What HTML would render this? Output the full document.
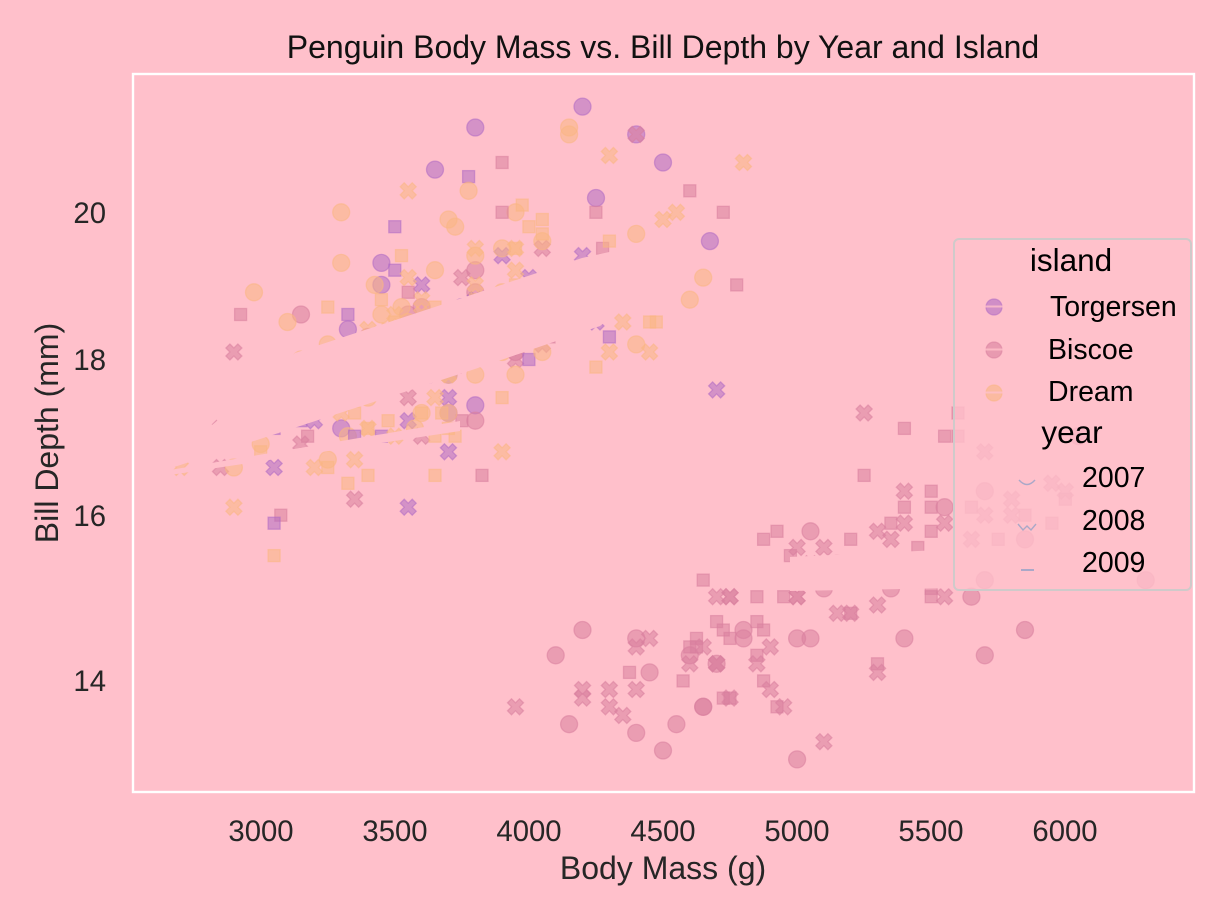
<!DOCTYPE html>
<html><head><meta charset="utf-8"><style>
html,body{margin:0;padding:0;background:#FFC0CB;}
svg{display:block;font-family:"Liberation Sans",Arial,sans-serif;}
</style></head><body>
<svg id="s" width="1228" height="921" viewBox="0 0 1228 921" xmlns="http://www.w3.org/2000/svg">
<rect x="0" y="0" width="1228" height="921" fill="#FFC0CB"/>
<g id="pts"></g>
<g fill="#FFC0CB">
<polygon points="165,466 295,353 456,300 582,258 700,232 700,248 600,326 475,369 165,470"/>
<polygon points="170,470 460,421 460,431 170,475"/>
<polygon points="790,557 960,549 960,588 790,591"/>
</g>
<rect x="133" y="74" width="1061" height="718" fill="none" stroke="#ffffff" stroke-width="2.4"/>
<text x="663" y="58" font-size="32" fill="#111" text-anchor="middle">Penguin Body Mass vs. Bill Depth by Year and Island</text>
<g font-size="29.3" fill="#262626" text-anchor="middle">
<text x="261" y="841">3000</text>
<text x="395" y="841">3500</text>
<text x="529" y="841">4000</text>
<text x="663" y="841">4500</text>
<text x="797" y="841">5000</text>
<text x="931" y="841">5500</text>
<text x="1065" y="841">6000</text>
</g>
<g font-size="29.3" fill="#262626" text-anchor="end">
<text x="106" y="223">20</text>
<text x="106" y="370">18</text>
<text x="106" y="526">16</text>
<text x="106" y="691">14</text>
</g>
<text x="663" y="879" font-size="32" fill="#262626" text-anchor="middle">Body Mass (g)</text>
<text transform="translate(58,433) rotate(-90)" font-size="32" fill="#262626" text-anchor="middle">Bill Depth (mm)</text>
<rect x="954" y="239" width="237" height="351" rx="5" ry="5" fill="#FFC0CB" fill-opacity="0.8" stroke="#cfcaca" stroke-width="2"/>
<g fill="#000">
<text x="1071" y="271" font-size="31.5" text-anchor="middle">island</text>
<text x="1050" y="316" font-size="28.5">Torgersen</text>
<text x="1048" y="359" font-size="28.5">Biscoe</text>
<text x="1048" y="401" font-size="28.5">Dream</text>
<text x="1072" y="443" font-size="31.5" text-anchor="middle">year</text>
<text x="1082" y="487" font-size="28.5">2007</text>
<text x="1082" y="530" font-size="28.5">2008</text>
<text x="1082" y="572" font-size="28.5">2009</text>
</g>
<g>
<circle cx="994" cy="307" r="8" fill="#b06cc4" fill-opacity="0.6" stroke="#b06cc4" stroke-opacity="0.55" stroke-width="1.3"/>
<rect x="985" y="305.5" width="18" height="2" fill="#FFC0CB" fill-opacity="0.8"/>
<circle cx="994" cy="350" r="8" fill="#d8809e" fill-opacity="0.6" stroke="#d8809e" stroke-opacity="0.55" stroke-width="1.3"/>
<rect x="985" y="348.5" width="18" height="2" fill="#FFC0CB" fill-opacity="0.8"/>
<circle cx="994" cy="393" r="8" fill="#f9b684" fill-opacity="0.6" stroke="#f9b684" stroke-opacity="0.55" stroke-width="1.3"/>
<rect x="985" y="391.5" width="18" height="2" fill="#FFC0CB" fill-opacity="0.8"/>
<path d="M1019,480 Q1027,489 1035,480" fill="none" stroke="#aaa8c8" stroke-width="1.4"/>
<path d="M1018,524 L1023,530 L1027,526 L1031,530 L1036,524" fill="none" stroke="#aaa8c8" stroke-width="1.4"/>
<path d="M1021,570 L1034,570" fill="none" stroke="#aaa8c8" stroke-width="2"/>
</g>
</svg>
<script>
(function(){
function X(m){return 132+(m-2520)*1062/3960;}
function Y(d){return 74+(4.68768-Math.sqrt(d))*641.55;}
var G=[
[0,0,"3750 18.7;3800 17.4;3250 18.0;3450 19.3;3650 20.6;3625 17.8;4675 19.6;3475 18.1;4250 20.2;3300 17.1;3700 17.3;3200 17.6;3800 21.2;4400 21.1;3700 17.8;3450 19.0;4500 20.7;3325 18.4;4200 21.5"],
[1,0,"3400 18.3;3600 18.7;3800 19.2;3950 18.1;3800 17.2;3800 18.9;3550 18.6;3200 17.9;3150 18.6;3950 18.9"],
[2,0,"3250 16.7;3900 18.1;3300 17.8;3900 18.9;3325 17.0;4150 21.1;3950 20.0;3550 18.5;3300 19.3;4650 19.1;3150 18.0;3900 18.4;3100 18.5;4400 19.7;3000 16.9;4600 18.8;3425 19.0;2975 18.9;3450 17.9;4150 21.2"],
[1,1,"3500 17.7;4300 18.9;3450 17.9;4050 19.5;2900 18.1;3700 18.6;3550 17.5;3800 18.8;2850 16.6;3750 19.1;3150 16.9;4400 21.1;3600 17.0;4050 18.2;2850 17.1;3950 18.0;3350 16.2;4100 19.1"],
[0,1,"3050 16.6;4450 19.4;3600 19.0;3900 18.4;3550 17.2;4150 18.9;3700 17.5;4250 18.5;3700 16.8;3900 19.4;3550 16.1;4000 19.1;3200 17.2;4700 17.6;3800 18.8;4200 19.4"],
[2,1,"3350 17.8;3550 20.3;3800 19.5;3500 18.6;3950 19.2;3600 18.8;3550 18.0;4300 18.1;3400 17.1;4450 18.1;3300 17.3;4300 18.9;3700 18.6;4350 18.5;2900 16.1;4100 18.5"],
[1,2,"3725 17.9;4725 20.0;3075 16.0;4250 20.0;2925 18.6;3550 18.9;3750 17.2;3900 20.0;3175 17.0;4775 19.0;3825 16.5;4600 20.3;3200 17.7;4275 19.5;3900 20.7;4075 18.3"],
[0,2,"2900 17.0;3775 20.5;3350 17.0;3325 18.6;3150 17.2;3500 19.8;3450 17.0;3875 18.5;3050 15.9;4000 19.0;3275 17.6;4300 18.3;3050 17.1;4000 18.0;3325 17.9;3500 19.2"],
[2,2,"3500 18.5;4475 18.5;3425 17.6;3900 17.5;3175 17.5;3975 20.1;3400 16.5;4250 17.9;3400 17.1;3475 17.2;3050 15.5;3725 17.0;3000 16.8;3650 18.7;4250 18.6;3475 18.4;3450 17.8;3750 18.1;3700 17.1;4000 18.5"],
[1,0,"4500 13.2;5700 16.3;4450 14.1;5700 15.2;5400 14.5;4550 13.5;4800 14.6;5200 15.3;4400 13.4;5150 15.4;4650 13.7;5550 16.1;4650 13.7;5850 14.6;4200 14.6;5850 15.7;4150 13.5;6300 15.2;4800 14.5;5350 15.1;5700 14.3;5000 14.5;4400 14.5;5050 15.8;5000 13.1;5100 15.1;4100 14.3;5650 15.0;4600 14.3;5550 15.3;5250 15.3;4700 14.2;5050 14.5;6050 17.0"],
[1,1,"5150 14.8;5400 16.3;4950 13.7;5250 17.3;4350 13.6;5350 15.7;3950 13.7;5700 16.0;4300 13.7;4750 15.0;5550 15.9;4900 13.9;4200 13.9;5400 15.9;5100 13.3;5300 15.8;4850 14.2;5300 14.1;4400 14.4;5000 15.0;4900 14.4;5050 15.4;4300 13.9;5000 15.0;4450 14.5;5550 15.3;4200 13.8;5300 14.9;4400 13.9;5650 15.7;4700 14.2;5700 16.8;4650 14.4;5800 16.2;4700 14.2;5550 15.0;4750 15.0;5000 15.6;5100 15.6;5200 14.8;4700 15.0;5800 16.0;4600 14.2;6000 16.3;4750 13.8;5950 16.4"],
[1,2,"4625 14.5;5450 15.6;4725 14.6;5350 15.9;4750 13.8;5600 17.3;4600 14.4;5300 14.2;4875 14.0;5550 17.0;4950 15.0;5400 17.1;4750 14.5;5650 16.1;4850 14.7;5200 15.7;4925 15.8;4875 14.6;4625 14.4;5250 16.5;4850 15.0;5600 17.0;4975 15.5;5500 15.0;4725 13.8;5500 16.1;4700 14.7;5500 15.8;4575 14.0;5500 15.1;5000 15.2;5950 15.9;4650 15.2;5500 16.3;4375 14.1;5850 16.0;4875 15.7;6000 16.2;4925 13.7;4850 14.3;5750 15.7;5200 14.8;5400 16.1"],
[2,0,"3500 17.9;3900 19.5;3650 19.2;3525 18.7;3725 19.8;3950 17.8;3250 18.2;3750 18.2;4150 18.9;3700 19.9;3800 17.8;3775 20.3;3700 17.3;4050 18.1;3575 17.1;4050 19.6;3300 20.0;3700 17.8;3450 18.6;4400 18.2;3600 17.3;3400 17.5;2900 16.6;3800 19.4;3300 17.9;4150 19.0"],
[2,1,"3400 18.4;3800 19.0;3700 17.8;4550 20.0;3200 16.6;4300 20.8;3350 16.7;4100 18.8;3600 18.6;3900 16.8;3850 18.3;4800 20.7;2700 16.6;4500 19.9;3950 19.5;3650 17.5;3550 19.1;3500 17.0"],
[2,2,"3675 17.9;4450 18.5;3400 17.9;4300 19.6;3250 18.7;3675 17.3;3325 16.4;3950 19.0;3600 17.3;4050 19.7;3350 17.3;3450 18.8;3250 16.6;4050 19.9;3800 18.8;3525 19.4;3950 19.5;3650 16.5;3650 17.0;4000 19.8;3400 18.1;3775 18.2;4100 19.0;3775 18.7"]
];
var cols=['#b06cc4','#d8809e','#f9b684'];
var S=17,r=S/2,sq=S/Math.SQRT2;
var pv=[[-1,-3],[-1,-1],[-3,-1],[-3,1],[-1,1],[-1,3],[1,3],[1,1],[3,1],[3,-1],[1,-1],[1,-3]].map(function(p){var x=p[0]/6*S,y=p[1]/6*S;return [(x-y)/Math.SQRT2,(x+y)/Math.SQRT2];});
var out='';
G.forEach(function(g){
 var c=cols[g[0]],yr=g[1];
 var st=' fill="'+c+'" fill-opacity="0.55" stroke="'+c+'" stroke-opacity="0.55" stroke-width="1.3"';
 g[2].split(';').forEach(function(s){
  var a=s.split(' '),x=X(+a[0]),y=Y(+a[1]);
  if(yr===0){out+='<circle cx="'+x.toFixed(1)+'" cy="'+y.toFixed(1)+'" r="'+r+'"'+st+'/>';}
  else if(yr===2){out+='<rect x="'+(x-sq/2).toFixed(1)+'" y="'+(y-sq/2).toFixed(1)+'" width="'+sq.toFixed(1)+'" height="'+sq.toFixed(1)+'"'+st+'/>';}
  else{out+='<path d="M'+pv.map(function(p){return (x+p[0]).toFixed(1)+','+(y+p[1]).toFixed(1);}).join(' L')+' Z"'+st+'/>';}
 });
});
document.getElementById('pts').innerHTML=out;
})();
</script>
</body></html>
